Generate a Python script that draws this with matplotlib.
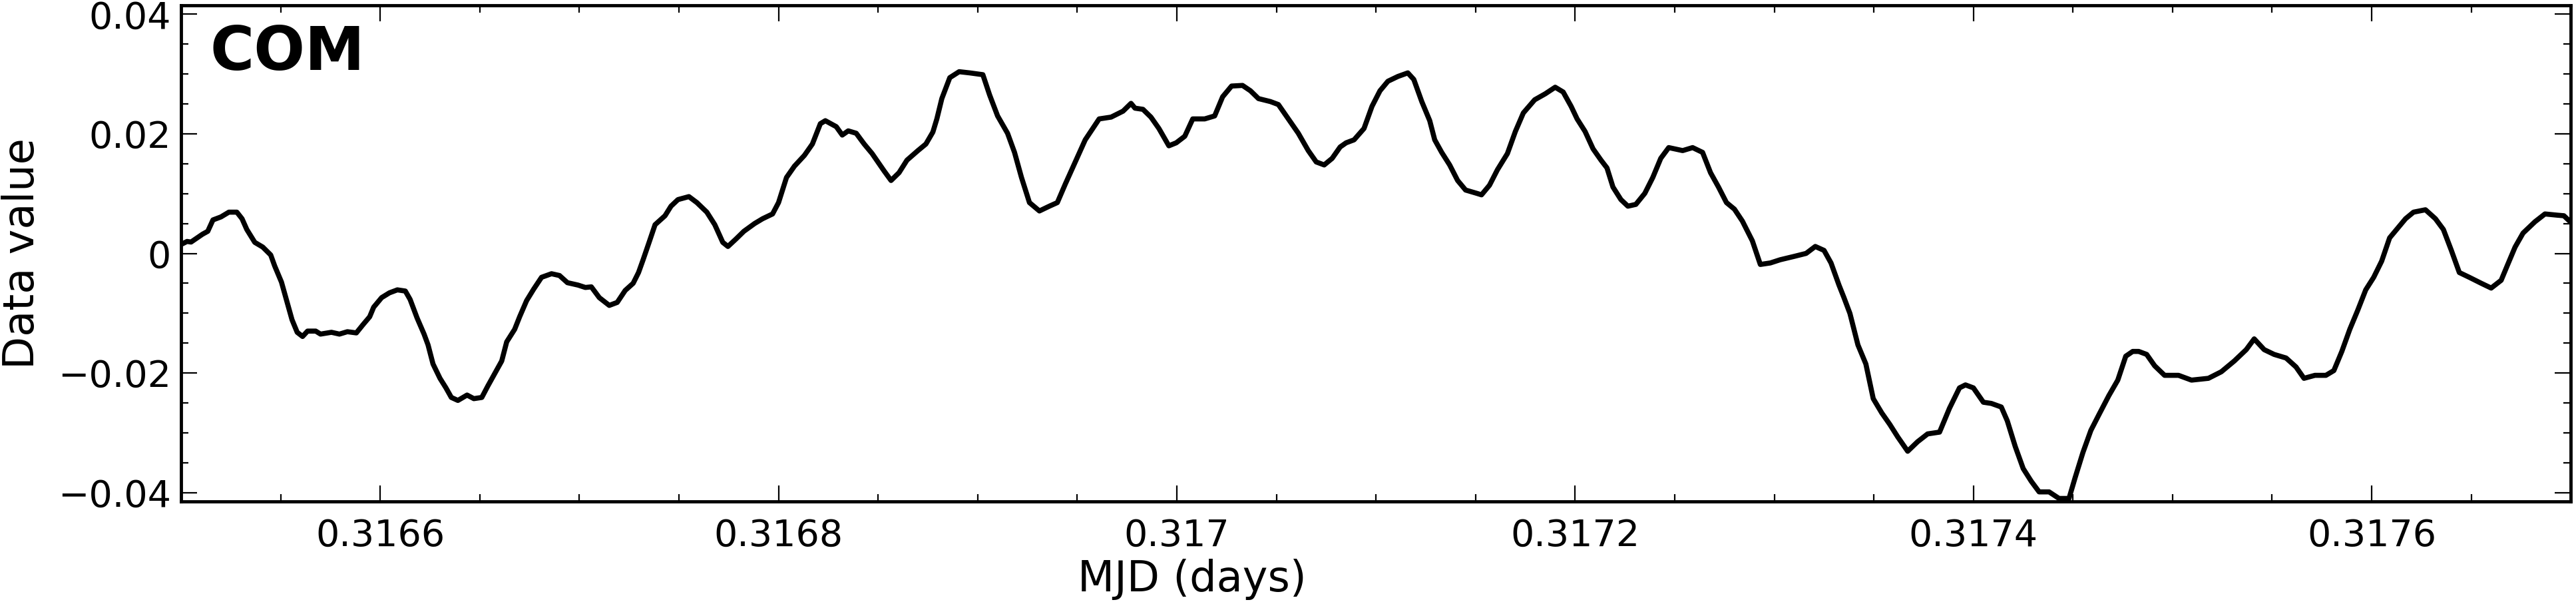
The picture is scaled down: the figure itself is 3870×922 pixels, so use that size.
import matplotlib
matplotlib.use('Agg')
import matplotlib.pyplot as plt
from matplotlib.ticker import MultipleLocator, FuncFormatter

# time since MJD 0.3165, in units of 1e-5 days
t_off = [0.0, 0.3, 0.5, 1.07, 1.34, 1.6, 2.0, 2.4, 2.8, 3.06, 3.3, 3.7, 4.1, 4.5,
         4.7, 5.04, 5.3, 5.57, 5.83, 6.1, 6.35, 6.76, 7.0, 7.55, 7.95, 8.35, 8.8,
         9.14, 9.47, 9.67, 10.07, 10.46, 10.86, 11.26, 11.5, 11.85, 12.2, 12.4,
         12.65, 13.0, 13.3, 13.57, 13.9, 14.36, 14.7, 15.1, 15.4, 15.75, 16.1,
         16.35, 16.75, 17.0, 17.35, 17.7, 18.1, 18.6, 19.0, 19.4, 19.93, 20.3,
         20.6, 21.0, 21.5, 21.9, 22.3, 22.7, 22.97, 23.2, 23.5, 23.8, 24.3, 24.6,
         24.95, 25.5, 25.9, 26.4, 26.8, 27.2, 27.46, 27.86, 28.26, 28.8, 29.2,
         29.7, 30.0, 30.4, 30.8, 31.3, 31.7, 32.1, 32.35, 32.9, 33.2, 33.5, 33.9,
         34.3, 34.7, 35.3, 35.65, 36.05, 36.45, 37.0, 37.4, 37.75, 37.95, 38.2,
         38.6, 39.07, 39.6, 40.26, 40.6, 41.0, 41.5, 41.85, 42.2, 42.6, 43.1,
         43.6, 44.0, 44.4, 44.9, 45.4, 46.1, 46.7, 47.3, 47.7, 47.9, 48.3, 48.7,
         49.1, 49.6, 49.97, 50.4, 50.8, 51.4, 51.9, 52.3, 52.75, 53.3, 53.7,
         54.1, 54.7, 55.1, 55.6, 56.1, 56.6, 57.0, 57.4, 57.8, 58.2, 58.5, 58.9,
         59.4, 59.8, 60.2, 60.6, 61.1, 61.6, 61.9, 62.3, 62.7, 62.95, 63.3, 63.7,
         64.1, 64.5, 65.06, 65.3, 65.7, 66.1, 66.6, 67.0, 67.4, 67.97, 68.5,
         69.0, 69.4, 69.8, 70.1, 70.5, 70.9, 71.3, 71.6, 71.9, 72.3, 72.65,
         73.05, 73.5, 73.9, 74.3, 74.7, 75.4, 75.9, 76.4, 76.8, 77.2, 77.6, 78.0,
         78.4, 78.9, 79.3, 79.8, 80.3, 81.0, 81.6, 82.06, 82.5, 82.85, 83.25,
         83.5, 83.8, 84.2, 84.6, 84.97, 85.4, 85.8, 86.2, 86.7, 87.2, 87.7, 88.3,
         88.8, 89.3, 89.6, 90.0, 90.5, 90.9, 91.4, 91.7, 92.1, 92.5, 92.9, 93.3,
         93.8, 94.3, 94.8, 95.1, 95.5, 95.9, 96.3, 96.8, 97.25, 97.65, 98.0,
         98.3, 98.7, 99.1, 99.6, 100.3, 100.95, 101.8, 102.45, 103.1, 103.7,
         104.1, 104.6, 105.1, 105.7, 106.2, 106.6, 107.15, 107.7, 108.1, 108.5,
         108.9, 109.3, 109.7, 110.1, 110.5, 110.9, 111.3, 111.7, 112.1, 112.7,
         113.2, 113.6, 114.0, 114.4, 114.9, 115.5, 116.0, 116.5, 116.8, 117.2,
         117.6, 118.2, 118.7, 119.3, 119.65, 120.0]

# COM value, in units of 1e-3
com_milli = [1.5, 2.0, 1.9, 3.2, 3.7, 5.6, 6.1, 6.9, 6.9, 5.8, 4.0, 1.85, 1.06,
             -0.26, -2.1, -4.8, -7.9, -11.1, -13.2, -13.9, -13.0, -13.0, -13.5,
             -13.2, -13.5, -13.1, -13.3, -11.9, -10.6, -9.0, -7.4, -6.6, -6.1,
             -6.3, -7.7, -10.8, -13.5, -15.3, -18.5, -20.9, -22.5, -24.1, -24.6,
             -23.7, -24.3, -24.1, -22.2, -20.1, -18.0, -14.8, -12.7, -10.6, -7.9,
             -6.0, -4.0, -3.4, -3.7, -4.9, -5.3, -5.7, -5.6, -7.4, -8.7, -8.2,
             -6.2, -5.0, -3.2, -1.06, 1.85, 4.8, 6.3, 7.9, 9.0, 9.5, 8.5, 6.9,
             4.8, 1.85, 1.16, 2.4, 3.7, 5.0, 5.8, 6.6, 8.5, 12.7, 14.6, 16.4,
             18.3, 21.7, 22.2, 21.2, 19.8, 20.5, 20.1, 18.3, 16.7, 13.8, 12.2,
             13.5, 15.6, 17.2, 18.3, 20.3, 22.5, 25.9, 29.4, 30.4, 30.2, 29.9,
             26.5, 23.0, 20.1, 16.9, 12.7, 8.5, 7.1, 7.9, 8.5, 11.6, 15.3, 19.0,
             22.5, 22.8, 23.8, 25.1, 24.3, 24.1, 22.8, 20.9, 18.0, 18.5, 19.6,
             22.5, 22.5, 23.0, 26.2, 28.0, 28.1, 27.2, 25.9, 25.4, 24.9, 22.5,
             20.1, 17.2, 15.3, 14.8, 15.9, 17.8, 18.5, 19.0, 20.9, 24.6, 27.2,
             28.8, 29.6, 30.2, 29.1, 25.4, 22.2, 19.0, 16.9, 14.8, 12.2, 10.6,
             10.05, 9.8, 11.4, 14.0, 16.7, 20.4, 23.5, 25.7, 26.7, 27.8, 27.0,
             24.6, 22.5, 20.4, 17.5, 15.6, 14.3, 11.1, 9.0, 7.9, 8.2, 10.05,
             12.7, 15.9, 17.7, 17.2, 17.7, 16.9, 13.5, 11.1, 8.5, 7.4, 5.4, 2.1,
             -1.85, -1.6, -1.06, -0.5, 0.0, 1.16, 0.5, -1.6, -5.3, -7.4, -10.05,
             -15.3, -18.5, -24.3, -26.7, -28.6, -30.7, -33.1, -31.5, -30.2,
             -29.9, -25.9, -22.5, -22.0, -22.5, -24.9, -25.1, -25.7, -28.0,
             -32.3, -36.0, -38.1, -39.9, -39.9, -41.0, -41.0, -37.6, -33.3,
             -29.6, -27.0, -23.8, -21.2, -17.2, -16.4, -16.4, -16.9, -18.8,
             -20.4, -20.4, -21.2, -20.9, -19.8, -18.0, -16.1, -14.3, -16.1,
             -16.9, -17.5, -19.0, -20.9, -20.4, -20.4, -19.6, -16.4, -12.7,
             -9.5, -6.1, -4.0, -1.3, 2.6, 4.2, 5.8, 6.9, 7.3, 5.8, 4.0, 0.5,
             -3.2, -4.0, -5.0, -5.8, -4.5, -2.1, 1.06, 3.4, 5.3, 6.6, 6.4, 6.3,
             5.2]

mjd = [0.3165 + t * 1e-5 for t in t_off]
com = [c * 1e-3 for c in com_milli]


def fmt(v, pos):
    s = f'{round(v, 6) + 0.0:g}'
    return s.replace('-', '\u2212')


fig = plt.figure(figsize=(38.7, 9.22), dpi=100)
ax = fig.add_axes([0.0703, 0.1833, 0.9277, 0.808])

ax.plot(mjd, com, color='black', lw=5.5)

ax.set_xlim(0.3165, 0.3177)
ax.set_ylim(-0.0415, 0.0415)
ax.xaxis.set_major_locator(MultipleLocator(0.0002))
ax.xaxis.set_minor_locator(MultipleLocator(0.00005))
ax.yaxis.set_major_locator(MultipleLocator(0.02))
ax.yaxis.set_minor_locator(MultipleLocator(0.005))
ax.xaxis.set_major_formatter(FuncFormatter(fmt))
ax.yaxis.set_major_formatter(FuncFormatter(fmt))

ax.tick_params(which='both', direction='in', top=True, right=True,
               labelsize=40, width=1.6, color='black')
ax.tick_params(which='major', length=17)
ax.tick_params(which='minor', length=8)
ax.tick_params(axis='x', which='major', pad=18)
ax.tick_params(axis='y', which='major', pad=11)

for sp in ax.spines.values():
    sp.set_linewidth(3.5)

ax.set_xlabel('MJD (days)', fontsize=46)
ax.set_ylabel('Data value', fontsize=46)
ax.xaxis.set_label_coords(0.423, -0.115)
ax.yaxis.set_label_coords(-0.058, 0.5)

ax.text(0.012, 0.962, 'COM', transform=ax.transAxes, fontsize=65,
        fontweight='bold', va='top', ha='left')

fig.savefig('out.png', dpi=100)
